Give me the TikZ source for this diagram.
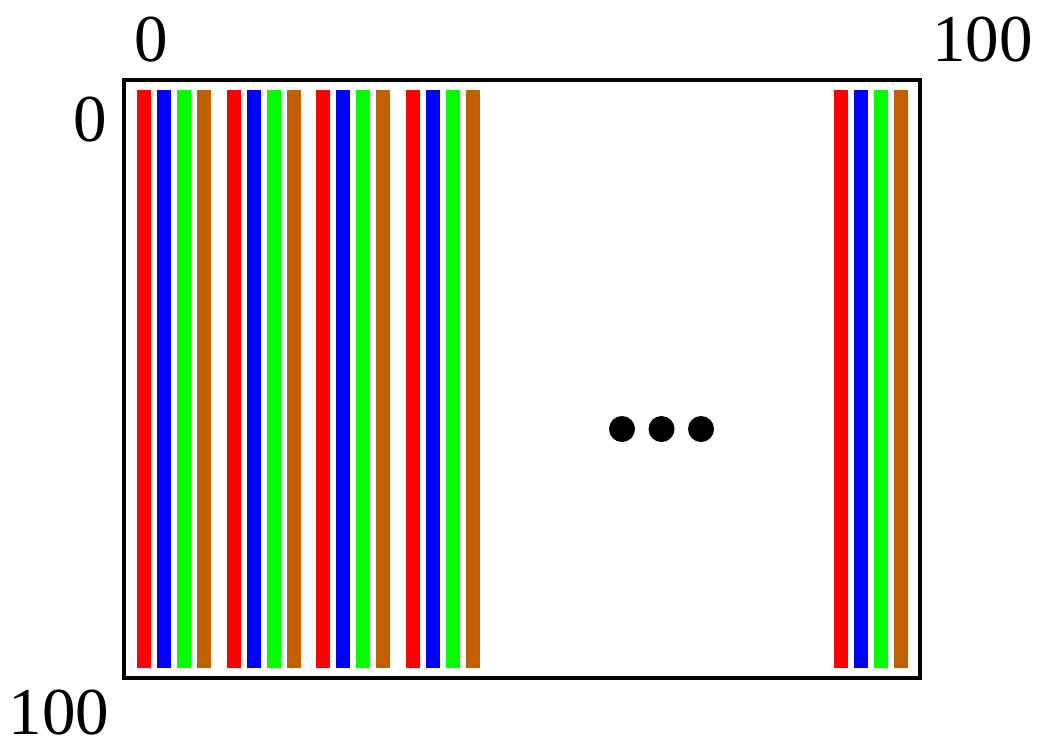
\documentclass[tikz,border=0pt]{standalone}
\usepackage{fontspec}
\setmainfont{Liberation Serif}
\usepackage{xcolor}
\usepackage{tikz}
\usetikzlibrary{positioning}
\definecolor{barorange}{RGB}{192,96,0}

\begin{document}
\begin{tikzpicture}[
    x=1pt, y=-1pt,
    axlabel/.style={font=\fontsize{67}{70}\selectfont, inner sep=0pt, anchor=base, text depth=0pt},
    barline/.style={draw=none}
]
\useasboundingbox (0,0) rectangle (1038,740);
% Labels
\node[axlabel] (xzero) at (151,61) {0};
\node[axlabel] (xmax) at (982.5,61) {100};
\node[axlabel] (yzero) at (90,141) {0};
\node[axlabel] (ymax) at (59,734) {100};
% Frame
\draw[line width=4pt] (124,80) rectangle (920,678);
% Bar groups
\foreach \g in {137, 226.5, 316, 405.5, 833.5} {
    \foreach \k/\clr in {0/red, 1/blue, 2/green, 3/barorange} {
        \fill[barline, \clr] (\g+\k*20,90) rectangle (\g+\k*20+14,668);
    }
}
% Dots
\foreach \i in {0,1,2} {
    \fill (622+\i*39.5,429) circle (13);
}
\end{tikzpicture}
\end{document}
